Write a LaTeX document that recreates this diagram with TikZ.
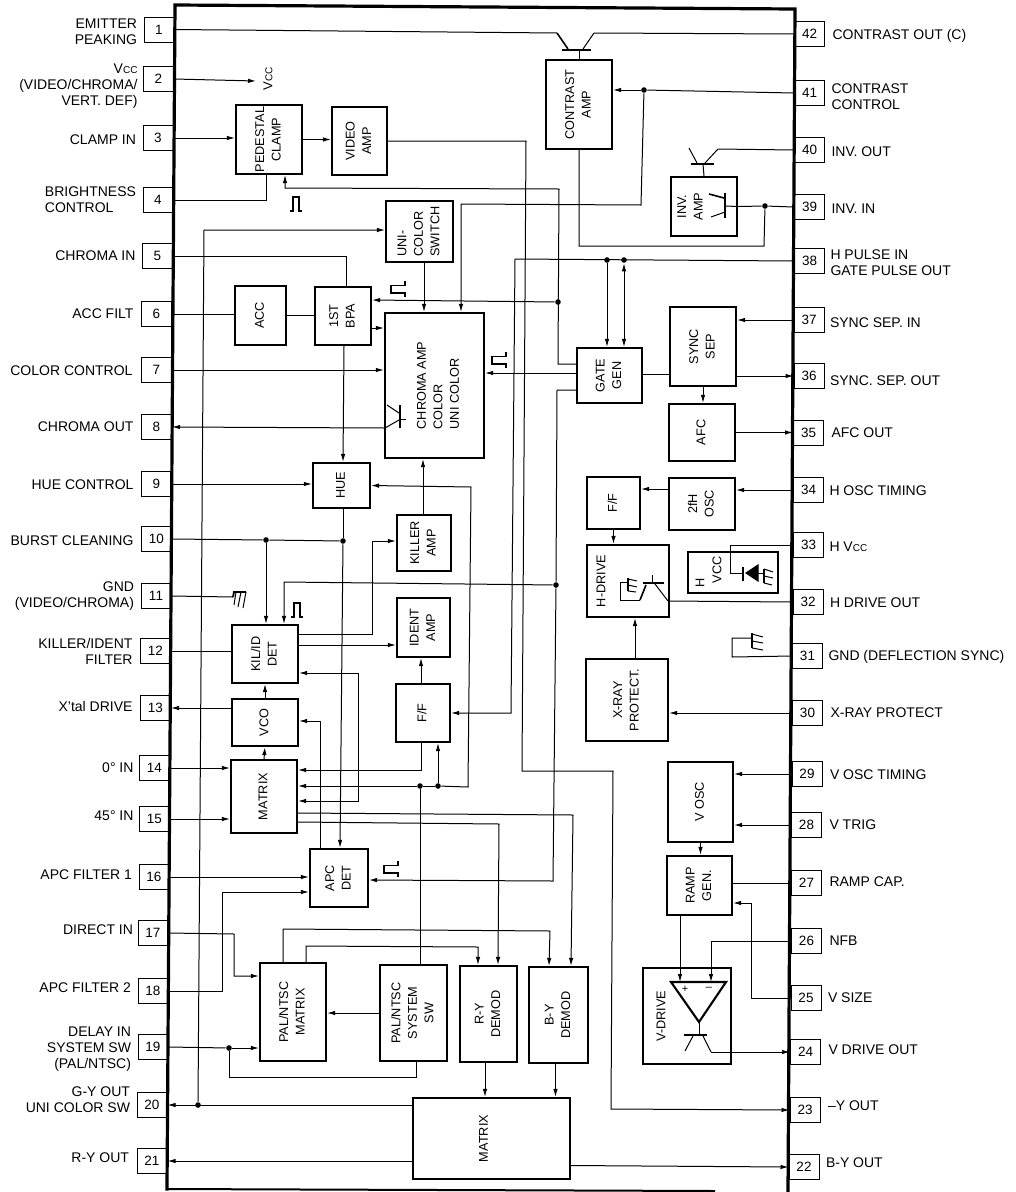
\documentclass[tikz,border=0pt]{standalone}
\usepackage{fontspec}
\setmainfont{Liberation Sans}
\usetikzlibrary{positioning,arrows.meta}
\newcommand{\vtext}[2][c]{\rotatebox{90}{\begin{tabular}{@{}#1@{}}#2\end{tabular}}}
\newcommand{\vcc}{V{\fontsize{10}{10}\selectfont CC}}
\newcommand{\pulsemark}[1]{\draw[line width=1.7pt] (#1) ++(7,-8) -- ++(0,4.5) -- ++(-14,0) -- ++(0,7.5) -- ++(14,0) -- ++(0,4);}
\newcommand{\pulseup}[1]{\draw[line width=1.7pt] (#1) ++(-6,7) -- ++(3,0) -- ++(0,-14) -- ++(6,0) -- ++(0,14) -- ++(3,0);}
\tikzset{
  pinbox/.style={draw, line width=1pt, minimum width=30pt, minimum height=25pt, inner sep=0pt, font=\fontsize{13.5}{15}\selectfont},
  pintxtl/.style={inner sep=0pt, align=right, font=\fontsize{14}{16}\selectfont},
  pintxtr/.style={inner sep=0pt, align=left, font=\fontsize{14}{16}\selectfont},
  blk/.style={draw, line width=2.1pt, inner sep=0pt, font=\fontsize{12.7}{16.5}\selectfont},
  jdot/.style={circle, fill, inner sep=0pt, minimum size=5.6pt},
  arr/.style={-{Latex[length=8pt,width=4.5pt]}},
  arrb/.style={{Latex[length=8pt,width=4.5pt]}-{Latex[length=8pt,width=4.5pt]}},
}
\begin{document}
\begin{tikzpicture}[x=1pt,y=-1pt,line width=1pt]
\useasboundingbox (0,0) rectangle (1016,1192);
% left pins
\node[pinbox] (pin1) at (159,29.5) {1};
\node[pintxtl, left=6pt of pin1, yshift=-2pt] (pin1txt) {EMITTER\\PEAKING};
\node[pinbox] (pin2) at (158.5,79) {2};
\node[pintxtl, left=5pt of pin2, yshift=-7pt] (pin2txt) {\vcc\\(VIDEO/CHROMA/\\VERT. DEF)};
\node[pinbox] (pin3) at (158,138) {3};
\node[pintxtl, left=6pt of pin3, yshift=-2pt] (pin3txt) {CLAMP IN};
\node[pinbox] (pin4) at (158,200) {4};
\node[pintxtl, align=left, left=6pt of pin4] (pin4txt) {BRIGHTNESS\\CONTROL};
\node[pinbox] (pin5) at (157.5,256) {5};
\node[pintxtl, left=6pt of pin5] (pin5txt) {CHROMA IN};
\node[pinbox] (pin6) at (156.5,314) {6};
\node[pintxtl, left=7pt of pin6] (pin6txt) {ACC FILT};
\node[pinbox] (pin7) at (156.5,370) {7};
\node[pintxtl, left=8pt of pin7, yshift=-1pt] (pin7txt) {COLOR CONTROL};
\node[pinbox] (pin8) at (156.5,427) {8};
\node[pintxtl, left=7pt of pin8] (pin8txt) {CHROMA OUT};
\node[pinbox] (pin9) at (156.5,484) {9};
\node[pintxtl, left=7pt of pin9, yshift=-1pt] (pin9txt) {HUE CONTROL};
\node[pinbox] (pin10) at (156.5,539) {10};
\node[pintxtl, left=7pt of pin10, yshift=-2pt] (pin10txt) {BURST CLEANING};
\node[pinbox] (pin11) at (156,596) {11};
\node[pintxtl, left=6pt of pin11] (pin11txt) {GND\\(VIDEO/CHROMA)};
\node[pinbox] (pin12) at (155.5,651) {12};
\node[pintxtl, left=7pt of pin12] (pin12txt) {KILLER/IDENT\\FILTER};
\node[pinbox] (pin13) at (155.5,708) {13};
\node[pintxtl, left=7pt of pin13, yshift=2pt] (pin13txt) {X'tal DRIVE};
\node[pinbox] (pin14) at (154.5,768) {14};
\node[pintxtl, left=5pt of pin14] (pin14txt) {0° IN};
\node[pinbox] (pin15) at (154.5,819) {15};
\node[pintxtl, left=5pt of pin15, yshift=3pt] (pin15txt) {45° IN};
\node[pinbox] (pin16) at (154,877) {16};
\node[pintxtl, left=6pt of pin16, yshift=2pt] (pin16txt) {APC FILTER 1};
\node[pinbox] (pin17) at (153,933) {17};
\node[pintxtl, left=4pt of pin17, yshift=3pt] (pin17txt) {DIRECT IN};
\node[pinbox] (pin18) at (153,991) {18};
\node[pintxtl, left=6pt of pin18, yshift=3pt] (pin18txt) {APC FILTER 2};
\node[pinbox] (pin19) at (153,1047) {19};
\node[pintxtl, left=6pt of pin19, yshift=-2pt] (pin19txt) {DELAY IN\\SYSTEM SW\\(PAL/NTSC)};
\node[pinbox] (pin20) at (152,1105) {20};
\node[pintxtl, left=6pt of pin20, yshift=5pt] (pin20txt) {G-Y OUT\\UNI COLOR SW};
\node[pinbox] (pin21) at (152,1161) {21};
\node[pintxtl, left=7pt of pin21, yshift=3pt] (pin21txt) {R-Y OUT};
% right pins
\node[pinbox] (pin42) at (809.5,34) {42};
\node[pintxtr, right=7pt of pin42, yshift=-2pt] (pin42txt) {CONTRAST OUT (C)};
\node[pinbox] (pin41) at (809.5,93) {41};
\node[pintxtr, right=6pt of pin41, yshift=-4pt] (pin41txt) {CONTRAST\\CONTROL};
\node[pinbox] (pin40) at (809.5,150) {40};
\node[pintxtr, right=6pt of pin40, yshift=-2pt] (pin40txt) {INV. OUT};
\node[pinbox] (pin39) at (809.5,207) {39};
\node[pintxtr, right=6pt of pin39, yshift=-2pt] (pin39txt) {INV. IN};
\node[pinbox] (pin38) at (809.5,261) {38};
\node[pintxtr, right=5pt of pin38, yshift=-2pt] (pin38txt) {H PULSE IN\\GATE PULSE OUT};
\node[pinbox] (pin37) at (809,320) {37};
\node[pintxtr, right=5pt of pin37, yshift=-3pt] (pin37txt) {SYNC SEP. IN};
\node[pinbox] (pin36) at (809,376) {36};
\node[pintxtr, right=5pt of pin36, yshift=-5pt] (pin36txt) {SYNC. SEP. OUT};
\node[pinbox] (pin35) at (808.5,433) {35};
\node[pintxtr, right=7pt of pin35] (pin35txt) {AFC OUT};
\node[pinbox] (pin34) at (808.5,490) {34};
\node[pintxtr, right=5pt of pin34, yshift=-1pt] (pin34txt) {H OSC TIMING};
\node[pinbox] (pin33) at (808.5,545) {33};
\node[pintxtr, right=5pt of pin33, yshift=-2pt] (pin33txt) {H \vcc};
\node[pinbox] (pin32) at (808,602) {32};
\node[pintxtr, right=6pt of pin32, yshift=-1pt] (pin32txt) {H DRIVE OUT};
\node[pinbox] (pin31) at (807.5,656) {31};
\node[pintxtr, right=5pt of pin31, yshift=-1pt] (pin31txt) {GND (DEFLECTION SYNC)};
\node[pinbox] (pin30) at (807.5,713) {30};
\node[pintxtr, right=7pt of pin30] (pin30txt) {X-RAY PROTECT};
\node[pinbox] (pin29) at (807,774) {29};
\node[pintxtr, right=7pt of pin29, yshift=-1pt] (pin29txt) {V OSC TIMING};
\node[pinbox] (pin28) at (806.5,825) {28};
\node[pintxtr, right=7pt of pin28] (pin28txt) {V TRIG};
\node[pinbox] (pin27) at (806.5,883) {27};
\node[pintxtr, right=7pt of pin27, yshift=1pt] (pin27txt) {RAMP CAP.};
\node[pinbox] (pin26) at (806.5,941) {26};
\node[pintxtr, right=7pt of pin26] (pin26txt) {NFB};
\node[pinbox] (pin25) at (806,998) {25};
\node[pintxtr, right=6pt of pin25] (pin25txt) {V SIZE};
\node[pinbox] (pin24) at (805.5,1052) {24};
\node[pintxtr, right=7pt of pin24, yshift=2pt] (pin24txt) {V DRIVE OUT};
\node[pinbox] (pin23) at (805,1110) {23};
\node[pintxtr, right=7pt of pin23, yshift=4pt] (pin23txt) {--Y OUT};
\node[pinbox] (pin22) at (804,1167) {22};
\node[pintxtr, right=6pt of pin22, yshift=4pt] (pin22txt) {B-Y OUT};
% chip outline
\draw[line width=3.2pt, line cap=rect] (167,1189) -- (175,5) -- (795,9) -- (788,1192);
\draw[line width=2pt] (167,1189) -- (715,1191);
% blocks
\node[blk, minimum width=66pt, minimum height=69pt] (pedclamp) at (269,139.5) {\vtext{PEDESTAL\\CLAMP}};
\node[blk, minimum width=55pt, minimum height=68pt] (vidamp) at (359.5,141) {\vtext{VIDEO\\AMP}};
\node[blk, minimum width=67pt, minimum height=61pt] (unisw) at (419.5,231.5) {\vtext[l]{UNI-\\COLOR\\SWITCH}};
\node[blk, minimum width=51pt, minimum height=59pt] (acc) at (260.5,315.5) {\vtext{ACC}};
\node[blk, minimum width=56pt, minimum height=58pt] (bpa) at (343,316) {\vtext{1ST\\BPA}};
\node[blk, minimum width=99pt, minimum height=145pt] (chroma) at (434.5,385.5) {\hspace*{9pt}\vtext[l]{CHROMA AMP\\COLOR\\UNI COLOR}};
\node[blk, minimum width=57pt, minimum height=45pt] (hue) at (341.5,485.5) {\vtext{HUE}};
\node[blk, minimum width=54pt, minimum height=56pt] (killer) at (424,543) {\vtext{KILLER\\AMP}};
\node[blk, minimum width=53pt, minimum height=59pt] (ident) at (423.5,627.5) {\vtext{IDENT\\AMP}};
\node[blk, minimum width=54pt, minimum height=58pt] (ffl) at (423,713) {\vtext{F/F}};
\node[blk, minimum width=66pt, minimum height=58pt] (kilid) at (265,654) {\vtext{KIL/ID\\DET}};
\node[blk, minimum width=66pt, minimum height=47pt] (vco) at (265,722.5) {\vtext{VCO}};
\node[blk, minimum width=66pt, minimum height=73pt] (mtx) at (264,796.5) {\vtext{MATRIX}};
\node[blk, minimum width=58pt, minimum height=58pt] (apc) at (339,878) {\vtext{APC\\DET}};
\node[blk, minimum width=66pt, minimum height=98pt] (palmtx) at (293,1012) {\vtext{PAL/NTSC\\MATRIX}};
\node[blk, minimum width=67pt, minimum height=96pt] (palsw) at (413.5,1013) {\vtext{PAL/NTSC\\SYSTEM\\SW}};
\node[blk, minimum width=57pt, minimum height=96pt] (rydem) at (488.5,1014) {\vtext{R-Y\\DEMOD}};
\node[blk, minimum width=59pt, minimum height=96pt] (bydem) at (558.5,1015) {\vtext{B-Y\\DEMOD}};
\node[blk, minimum width=157pt, minimum height=81pt] (bigmtx) at (491.5,1138.5) {\vtext{MATRIX}\hspace*{14pt}};
\node[blk, minimum width=66pt, minimum height=89pt] (contrast) at (579,104.5) {\vtext{CONTRAST\\AMP}};
\node[blk, minimum width=66pt, minimum height=59pt] (invamp) at (704,206.5) {\vtext{INV.\\AMP}\hspace*{26pt}};
\node[blk, minimum width=65pt, minimum height=55pt] (gategen) at (609.5,375.5) {\vtext{GATE\\GEN}};
\node[blk, minimum width=66pt, minimum height=79pt] (syncsep) at (703,346.5) {\vtext{SYNC\\SEP}};
\node[blk, minimum width=66pt, minimum height=57pt] (afc) at (702,432.5) {\vtext{AFC}};
\node[blk, minimum width=53pt, minimum height=52pt] (ffr) at (613.5,503) {\vtext{F/F}};
\node[blk, minimum width=66pt, minimum height=52pt] (osc2) at (702,504) {\vtext{2fH\\OSC}};
\node[blk, minimum width=82pt, minimum height=72pt] (hdrive) at (628,581) {\vtext{H-DRIVE}\hspace*{52pt}};
\node[blk, minimum width=90pt, minimum height=41pt] (hvccbox) at (733,572.5) {};
\node[blk, minimum width=82pt, minimum height=82pt] (xray) at (627,700) {\vtext{X-RAY\\PROTECT.}};
\node[blk, minimum width=65pt, minimum height=80pt] (vosc) at (700.5,802) {\vtext{V OSC}};
\node[blk, minimum width=65pt, minimum height=59pt] (ramp) at (699.5,885.5) {\vtext{RAMP\\GEN.}};
\node[blk, minimum width=88pt, minimum height=96pt] (vdrive) at (687,1016) {\vtext{V-DRIVE}\hspace*{50pt}};
% texts without box
\node[rotate=90, inner sep=0pt, font=\fontsize{13}{15}\selectfont] (vcctxt) at (268,79) {\vcc};
\node[rotate=90, inner sep=0pt, font=\fontsize{12.7}{15}\selectfont] (hvcch) at (700,583) {H};
\node[rotate=90, inner sep=0pt, font=\fontsize{12.7}{15}\selectfont] (hvccv) at (717,570) {VCC};
\node[inner sep=0pt, font=\fontsize{11}{11}\selectfont] (opplus) at (685,989) {+};
\node[inner sep=0pt, font=\fontsize{11}{11}\selectfont] (opminus) at (709,989) {--};
% junctions
\node[jdot] (j20) at (198,1105) {};
\node[jdot] (j41) at (644,90) {};
\node[jdot] (j39) at (765,206) {};
\node[jdot] (j38a) at (607,260) {};
\node[jdot] (j38b) at (624,260) {};
\node[jdot] (jbpa) at (558,302) {};
\node[jdot] (japc) at (556,585) {};
\node[jdot] (j10a) at (266,540) {};
\node[jdot] (j10b) at (343,541) {};
\node[jdot] (jsw) at (420,786) {};
\node[jdot] (jff) at (438,786) {};
\node[jdot] (j19) at (229,1048) {};
% free ends
\coordinate (vccend) at (256,81);
\coordinate (q1e) at (557,33);
\coordinate (q1c) at (594,33);
\coordinate (q2e) at (385,428);
\coordinate (q4c) at (668,601);
\coordinate (q5c) at (711,1052);
\coordinate (opp) at (680,982);
\coordinate (opm) at (711,982);
\coordinate (gnd1) at (233,597);
% top left
\draw[arr] (pin2.east) -- (vccend);
\draw[arr] (pin3.east) -- (pin3.east -| pedclamp.west);
\draw[arr] (pedclamp.east) -- (pedclamp.east -| vidamp.west);
\draw (pin4.east) -| ([xshift=-3pt]pedclamp.south);
\draw[arr] (vidamp.east) -- (526,141) -- (522,771) -- (613,771) -- (611,1109) -- (pin23.west);
\draw[arr] ([yshift=11.5pt]gategen.west) -- (558,364) -- (559,189) -- (285,188) -- ([xshift=16pt]pedclamp.south);
\draw[arr] (j20) -- (204,230) -- ([yshift=1.5pt]unisw.west);
\draw[arr] (pin20.east -| bigmtx.west) -- (pin20.east);
\draw[arr] (pin21.east -| bigmtx.west) -- (pin21.east);
\draw (pin5.east) -| ([xshift=3pt]bpa.north);
\draw (pin6.east) -- (pin6.east -| acc.west);
\draw (acc.east) -- (acc.east -| bpa.west);
\draw[arr] ([yshift=-12pt]bpa.east) -- ([yshift=57.5pt]chroma.west);
\draw[arr] (jbpa) -- ([yshift=16pt]bpa.east);
\draw[arr] ([xshift=4.5pt]unisw.south) -- ([xshift=-10.5pt]chroma.north);
\draw[arr] (pin7.east) -- (pin7.east -| chroma.west);
\draw[arr] (q2e) -- (pin8.east);
\draw[arr] ([yshift=2.5pt]gategen.west) -- ([yshift=12.5pt]chroma.east);
% contrast and inverter
\draw (pin1.east) -- (q1e);
\draw[line width=1.6pt] (q1e) -- (568,49);
\draw (q1c) -- (583,49);
\draw (q1c) -- (pin42.west);
\draw[line width=2.4pt] (562,50) -- (591,50);
\draw (579,50) -- (contrast.north);
\draw (pin41.west) -- (j41);
\draw[arr] (j41) -- (j41 -| contrast.east);
\draw[arr] (j41) -- (641,205) -- (461,204) -- ([xshift=26.5pt]chroma.north);
\draw (contrast.south) -- (579,246) -- (764,246) -- (j39);
\draw (pin39.west) -- (j39) -- (invamp.east);
\draw (invamp.east) -- (725,206);
\draw[line width=2.4pt] (725,193) -- (725,218);
\draw[line width=1.6pt] (724,198) -- (709,194);
\draw (725,212) -- (711,217);
\draw (pin40.west) -- (718,149) -- (705,163);
\draw (689,148) -- (697,163);
\draw[line width=2.4pt] (691,164) -- (714,164);
\draw (703,164) -- (invamp.north);
% chroma transistor
\draw (q2e) -- (399,420);
\draw (387,405) -- (399,413);
\draw[line width=2.4pt] (400,405) -- (400,428);
\draw (400,419) -- (406,419);
% gate gen and sync
\draw[arr] (pin38.west) -- (515,259) -- (511,713) -- (ffl.east);
\draw[arr] (j38a) -- (j38a |- gategen.north);
\draw[arrb] (j38b) -- (j38b |- gategen.north);
\draw ([yshift=-14.5pt]gategen.west) -- (557,390) -- (japc);
\draw[arr] (japc) -- (553,881) -- ([yshift=-2pt]apc.east);
\draw[arr] (japc) -- (284,582) -- ([xshift=19pt]kilid.north);
\draw ([yshift=1.5pt]gategen.east) -- ([yshift=1.5pt]gategen.east -| syncsep.west);
\draw[arr] (pin37.west) -- (pin37.west -| syncsep.east);
\draw[arr] (pin36.west -| syncsep.east) -- (pin36.west);
\draw[arr] (syncsep.south) -- (syncsep.south |- afc.north);
\draw[arr] (afc.east) -- (afc.east -| pin35.west);
\draw[arr] (pin34.west) -- (pin34.west -| osc2.east);
\draw[arr] ([yshift=15pt]osc2.west) -- ([yshift=15pt]osc2.west -| ffr.east);
\draw[arr] (ffr.south) -- (ffr.south |- hdrive.north);
\draw[arr] ([xshift=8pt]xray.north) -- ([xshift=7pt]hdrive.south);
\draw[arr] (pin30.west) -- (pin30.west -| xray.east);
% h drive inside
\draw (q4c) -- (pin32.west);
\draw (q4c) -- (655,584);
\draw[line width=2.4pt] (643,583) -- (664,583);
\draw (652,575) -- (652,583);
\draw (628,582) -- (620,582) -- (620,600) -- (640,600);
\draw[line width=1.6pt] (640,600) -- (646,585);
\draw[line width=1.8pt] (628,578) -- (628,591);
\draw (628,579) -- (637,581) (628,585) -- (637,587) (628,591) -- (636,592);
% h vcc
\draw (pin33.west) -- (730,545) -- (730,573) -- (742,573);
\draw[line width=2.4pt] (743,567) -- (743,581);
\draw[fill, line width=1pt] (746,573) -- (758,565) -- (758,581) -- cycle;
\draw (758,573) -- (764,573);
\draw[line width=1.8pt] (764,569) -- (764,583);
\draw (764,569) -- (773,572) (764,576) -- (773,578) (764,583) -- (772,585);
% gnd marks
\draw (pin31.west) -- (732,657) -- (732,638) -- (752,638);
\draw[line width=1.8pt] (752,633) -- (752,648);
\draw (752,634) -- (763,637) (752,641) -- (763,643) (752,648) -- (763,650);
\draw (pin11.east) -- (gnd1);
\draw[line width=1.8pt] (gnd1) -- (234,592) -- (246,592);
\draw (236,592) -- (234,605) (241,592) -- (238,607) (246,592) -- (243,608);
% v part
\draw[arr] (pin29.west) -- (pin29.west -| vosc.east);
\draw[arr] (pin28.west) -- (pin28.west -| vosc.east);
\draw[arr] (vosc.south) -- (vosc.south |- ramp.north);
\draw (pin27.west) -- (pin27.west -| ramp.east);
\draw[arr] (pin25.west) -- (751,998) -- (751,903) -- ([yshift=-17.5pt]ramp.east);
\draw[arr] (pin26.west) -| (opm);
\draw[arr] ([xshift=-19.5pt]ramp.south) -- (opp);
\draw[line width=2.1pt] (671,982) -- (726,982) -- (699,1022) -- cycle;
\draw (699,1022) -- (699,1035);
\draw[line width=2.4pt] (684,1035) -- (707,1035);
\draw (693,1036) -- (685,1051);
\draw (703,1036) -- (q5c);
\draw[arr] (q5c) -- (pin24.west);
% hue, killer, ident
\draw[arr] (pin9.east) -- (pin9.east -| hue.west);
\draw[arr] ([xshift=1pt]bpa.south) -- ([xshift=1.5pt]hue.north);
\draw ([xshift=1.5pt]hue.south) -- (j10b);
\draw[arr] (j10b) -- ([xshift=1pt]apc.north);
\draw (pin10.east) -- (j10a) -- (j10b);
\draw[arr] (j10a) -- ([xshift=1pt]kilid.north);
\draw[arr] ([xshift=-1pt]killer.north) -- ([xshift=-11.5pt]chroma.south);
\draw[arr] ([yshift=20pt]kilid.east) -- (372,634) -- (372,541) -- ([yshift=2pt]killer.west);
\draw[arr] ([yshift=9pt]kilid.east) -- ([yshift=-17.5pt]ident.west);
\draw[arrb] ([yshift=-19pt]kilid.east) -- (358,673) -- (358,801) -- ([yshift=-4.5pt]mtx.east);
\draw[arr] ([xshift=-2pt]ffl.north) -- ([xshift=-2.5pt]ident.south);
\draw[arr] ([xshift=-19pt]apc.north) -- (320,721) -- ([yshift=1.5pt]vco.east);
\draw[arr] (vco.north) -- (kilid.south);
\draw[arr] (mtx.north) -- (vco.south);
\draw (pin12.east) -- (pin12.east -| kilid.west);
\draw[arr] (pin13.east -| vco.west) -- (pin13.east);
\draw[arr] (pin14.east) -- (pin14.east -| mtx.west);
\draw[arr] (pin15.east) -- (pin15.east -| mtx.west);
% matrix right side
\draw[arr] ([xshift=-2pt]ffl.south) -- (421,770) -- ([yshift=26.5pt]mtx.east);
\draw (jsw) -- (jff);
\draw[arr] (jsw) -- ([yshift=10.5pt]mtx.east);
\draw[arr] (jff) -- (468,787) -- (471,487) -- (hue.east);
\draw[arr] (jff) -- (jff |- ffl.south);
\draw (jsw) -- ([xshift=6.5pt]palsw.north);
\draw[arr] ([yshift=-16.5pt]mtx.east) -- (573,815) -- ([xshift=12.5pt]bydem.north);
\draw[arr] ([yshift=-25.5pt]mtx.east) -- (499,824) -- ([xshift=9.5pt]rydem.north);
% bottom
\draw[arr] ([xshift=-10pt]palmtx.north) -- (283,929) -- (550,931) -- ([xshift=-9.5pt]bydem.north);
\draw[arr] ([xshift=13pt]palmtx.north) -- (306,946) -- (478,947) -- ([xshift=-10.5pt]rydem.north);
\draw[arr] (palsw.west) -- (palsw.west -| palmtx.east);
\draw (pin19.east) -- (j19);
\draw[arr] (j19) -- (j19 -| palmtx.west);
\draw ([xshift=2.5pt]palsw.south) -- (416,1077) -- (229,1077) -- (j19);
\draw[arr] (pin17.east) -- (234,934) -- (234,976) -- ([yshift=36pt]palmtx.west);
\draw[arr] (pin18.east) -- (222,991) -- (222,892) -- ([yshift=-14pt]apc.west);
\draw[arr] (pin16.east) -- (pin16.east -| apc.west);
\draw[arr] ([xshift=-3.5pt]rydem.south) -- ([xshift=-6.5pt]bigmtx.north);
\draw[arr] ([xshift=-3pt]bydem.south) -- ([xshift=64pt]bigmtx.north);
\draw[arr] ([yshift=-27pt]bigmtx.east) -- (pin22.west);
% pulse marks
\pulseup{296,204}
\pulsemark{398,289}
\pulsemark{499,360}
\pulseup{297,610}
\pulsemark{391,869}
\end{tikzpicture}
\end{document}
